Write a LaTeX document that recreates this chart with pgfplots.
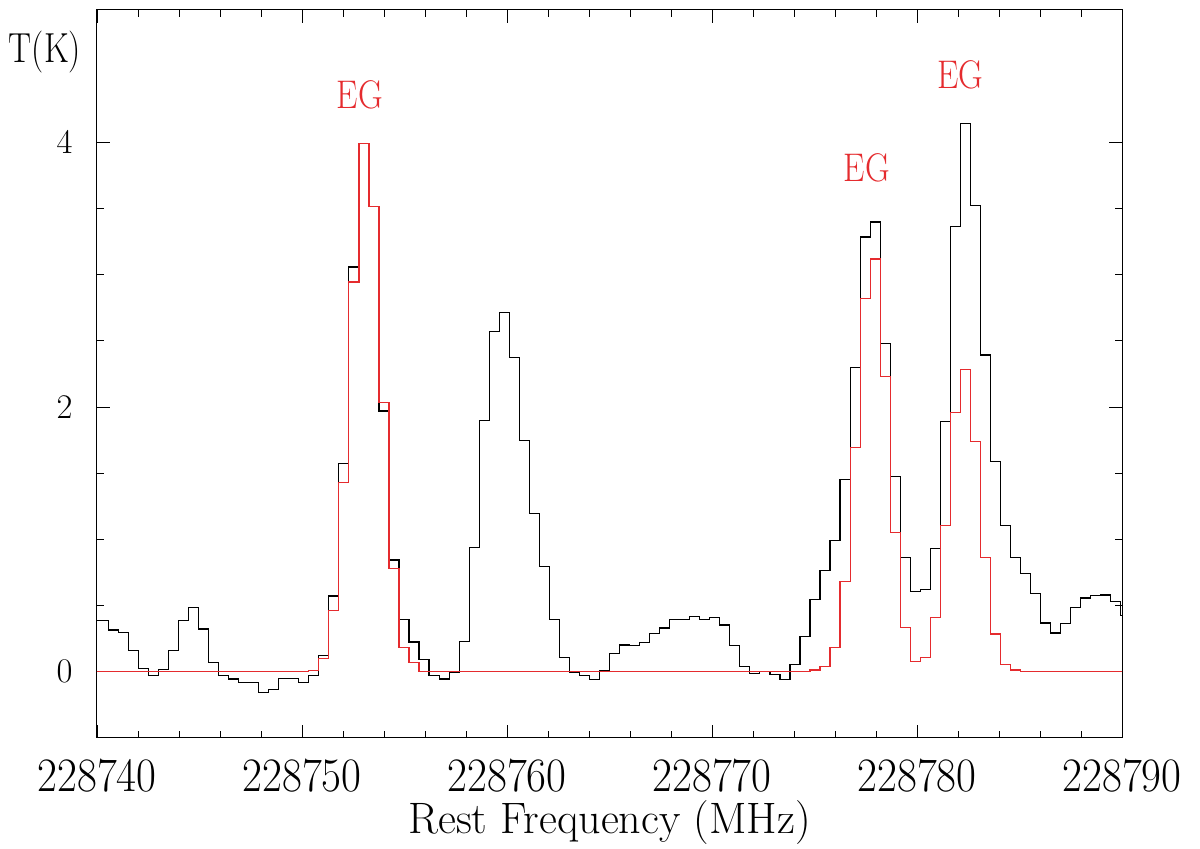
\documentclass[border=0pt]{standalone}
\usepackage{graphicx}
\usepackage{pgfplots}
\pgfplotsset{compat=1.18}

\definecolor{linered}{rgb}{0.90,0.17,0.18}
\newcommand{\nx}[1]{\scalebox{0.9}[1]{#1}}

% x is given as offset from 228740 MHz, channel left edges
\begin{document}
\begin{tikzpicture}

\begin{axis}[%
width=512.5pt,
height=364pt,
at={(0pt,0pt)},
anchor=south west,
scale only axis,
xmin=0,
xmax=50,
ymin=-0.5,
ymax=5,
clip mode=individual,
xtick={0,10,20,30,40,50},
xticklabels={\nx{228740},\nx{228750},\nx{228760},\nx{228770},\nx{228780},\nx{228790}},
minor x tick num=4,
ytick={0,2,4},
minor y tick num=3,
tick align=inside,
major tick length=6.5pt,
minor tick length=3.5pt,
tick style={black,line width=0.45pt},
axis line style={black,line width=0.5pt},
xticklabel style={font=\fontsize{24}{24}\selectfont,anchor=center,yshift=-19pt,inner sep=0pt},
yticklabel style={font=\fontsize{18}{18}\selectfont,anchor=east,inner sep=0pt,xshift=-12pt},
xlabel={Rest Frequency (MHz)},
xlabel style={font=\fontsize{22}{22}\selectfont,at={(rel axis cs:0.5,0)},anchor=center,yshift=-42.5pt,inner sep=0pt},
axis background/.style={fill=white}
]
\addplot[const plot,color=black,line width=0.6pt,forget plot] table[row sep=crcr] {%
-0.500	0.390\\
0.551	0.316\\
1.040	0.298\\
1.529	0.164\\
2.018	0.025\\
2.507	-0.030\\
2.996	0.015\\
3.485	0.164\\
3.974	0.390\\
4.463	0.487\\
4.952	0.323\\
5.441	0.070\\
5.930	-0.030\\
6.419	-0.055\\
6.908	-0.083\\
7.397	-0.083\\
7.886	-0.157\\
8.375	-0.132\\
8.864	-0.048\\
9.353	-0.048\\
9.842	-0.083\\
10.331	-0.030\\
10.820	0.121\\
11.309	0.573\\
11.798	1.573\\
12.287	3.058\\
12.776	3.990\\
13.265	3.518\\
13.754	1.970\\
14.243	0.844\\
14.732	0.397\\
15.221	0.225\\
15.710	0.091\\
16.199	-0.025\\
16.688	-0.055\\
17.177	-0.005\\
17.666	0.227\\
18.155	0.942\\
18.644	1.896\\
19.133	2.571\\
19.622	2.717\\
20.111	2.376\\
20.600	1.750\\
21.089	1.195\\
21.578	0.795\\
22.067	0.394\\
22.556	0.109\\
23.045	-0.005\\
23.534	-0.025\\
24.023	-0.058\\
24.512	0.008\\
25.001	0.139\\
25.490	0.202\\
25.979	0.197\\
26.468	0.222\\
26.957	0.290\\
27.446	0.331\\
27.935	0.394\\
28.424	0.394\\
28.913	0.417\\
29.402	0.394\\
29.891	0.412\\
30.380	0.354\\
30.869	0.197\\
31.358	0.038\\
31.847	-0.013\\
32.336	0.002\\
32.825	-0.020\\
33.314	-0.058\\
33.803	0.058\\
34.292	0.268\\
34.781	0.545\\
35.270	0.765\\
35.759	0.992\\
36.248	1.452\\
36.737	2.298\\
37.226	3.285\\
37.715	3.399\\
38.204	2.482\\
38.693	1.477\\
39.182	0.866\\
39.671	0.608\\
40.160	0.619\\
40.649	0.929\\
41.138	1.889\\
41.627	3.366\\
42.116	4.144\\
42.605	3.525\\
43.094	2.394\\
43.583	1.586\\
44.072	1.108\\
44.561	0.866\\
45.050	0.740\\
45.539	0.593\\
46.028	0.369\\
46.517	0.293\\
47.006	0.364\\
47.495	0.487\\
47.984	0.558\\
48.473	0.576\\
48.962	0.581\\
49.451	0.530\\
49.940	0.424\\
50.429	0.424\\
};
\addplot[const plot,color=linered,line width=0.6pt,forget plot] table[row sep=crcr] {%
-0.500	0.000\\
9.842	0.000\\
10.331	0.010\\
10.820	0.100\\
11.309	0.462\\
11.798	1.430\\
12.287	2.945\\
12.776	3.990\\
13.265	3.518\\
13.754	2.035\\
14.243	0.780\\
14.732	0.186\\
15.221	0.070\\
15.710	0.000\\
33.803	0.000\\
34.292	0.005\\
34.781	0.013\\
35.270	0.038\\
35.759	0.184\\
36.248	0.682\\
36.737	1.694\\
37.226	2.823\\
37.715	3.119\\
38.204	2.230\\
38.693	1.055\\
39.182	0.336\\
39.671	0.078\\
40.160	0.109\\
40.649	0.412\\
41.138	1.106\\
41.627	1.960\\
42.116	2.285\\
42.605	1.737\\
43.094	0.866\\
43.583	0.285\\
44.072	0.058\\
44.561	0.013\\
45.050	0.000\\
50.429	0.000\\
};
\node[text=linered,font=\fontsize{20}{20}\selectfont,inner sep=0pt] at (axis cs:12.83,4.36) {\scalebox{0.85}[1]{EG}};
\node[text=linered,font=\fontsize{20}{20}\selectfont,inner sep=0pt] at (axis cs:37.55,3.81) {\scalebox{0.85}[1]{EG}};
\node[text=linered,font=\fontsize{20}{20}\selectfont,inner sep=0pt] at (axis cs:42.10,4.51) {\scalebox{0.85}[1]{EG}};
\node[font=\fontsize{21}{21}\selectfont,inner sep=0pt,xshift=-26pt,yshift=-21pt] at (rel axis cs:0,1) {\scalebox{0.82}[1]{T(K)}};
\end{axis}
\pgfresetboundingbox
\path (-48.5pt,-55.5pt) rectangle (551.5pt,369pt);
\end{tikzpicture}
\end{document}
